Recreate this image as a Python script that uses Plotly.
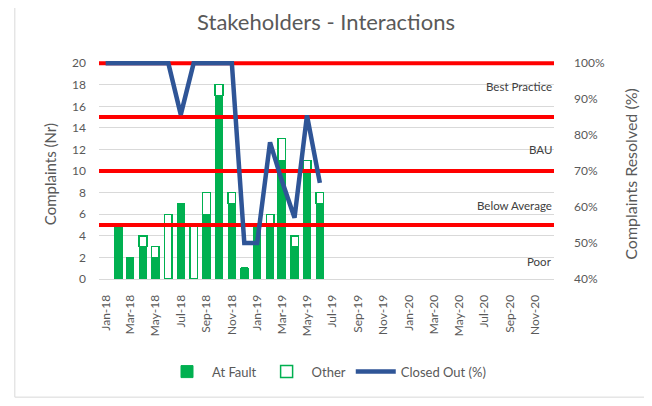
"""
Stakeholders - Interactions: complaints per month (stacked bars)
with % closed out on a secondary axis and red band thresholds.
"""

import plotly.graph_objects as go

# ---------------------------
# data
# ---------------------------

bar_months = [
    "2018-02-01", "2018-03-01", "2018-04-01", "2018-05-01", "2018-06-01",
    "2018-07-01", "2018-08-01", "2018-09-01", "2018-10-01", "2018-11-01",
    "2018-12-01", "2019-01-01", "2019-02-01", "2019-03-01", "2019-04-01",
    "2019-05-01", "2019-06-01",
]
at_fault = [5, 2, 3, 2, 0, 7, 0, 6, 17, 7, 1, 5, 5, 11, 3, 10, 7]
other = [0, 0, 1, 1, 6, 0, 5, 2, 1, 1, 0, 0, 1, 2, 1, 1, 1]

line_months = ["2018-01-01"] + bar_months
closed_out = [1.0, 1.0, 1.0, 1.0, 1.0, 1.0, 0.857, 1.0, 1.0, 1.0, 1.0,
              0.5, 0.5, 0.78, 0.675, 0.57, 0.855, 0.667]

thresholds = [5, 10, 15, 20]
band_names = ["Best Practice", "BAU", "Below Average", "Poor"]
band_y = [17.8, 12.0, 6.8, 1.6]

axis_start, axis_end = "2017-12-16", "2020-12-16"

GREEN = "rgb(0,176,80)"
BLUE = "#2F5597"
RED = "#FF0000"
GREY = "#595959"
FONT = "Lato"

fig = go.Figure()

# ---------------------------
# bars
# ---------------------------

fig.add_trace(go.Bar(
    x=bar_months, y=at_fault, name="At Fault",
    marker=dict(color=GREEN, line=dict(color=GREEN, width=1)),
))
fig.add_trace(go.Bar(
    x=bar_months, y=other, name="Other",
    marker=dict(color="white", line=dict(color=GREEN, width=1.5)),
))

# ---------------------------
# threshold lines (above bars, below the % line)
# ---------------------------

red_x, red_y = [], []
for t in thresholds:
    red_x += [axis_start, axis_end, None]
    red_y += [t, t, None]

fig.add_trace(go.Scatter(
    x=red_x, y=red_y, mode="lines",
    line=dict(color=RED, width=4),
    showlegend=False, hoverinfo="skip",
))

# ---------------------------
# closed out %
# ---------------------------

fig.add_trace(go.Scatter(
    x=line_months, y=closed_out, name="Closed Out (%)",
    mode="lines", yaxis="y2",
    line=dict(color=BLUE, width=4.5),
))

# band labels
for name, yv in zip(band_names, band_y):
    fig.add_annotation(
        x=1.0, xref="paper", xanchor="right", y=yv, yref="y",
        text=name, showarrow=False,
        font=dict(family=FONT, size=11.5, color="#404040"),
    )

# axis titles
fig.add_annotation(
    x=-0.108, xref="paper", xanchor="center",
    y=0.48, yref="paper", yanchor="middle", textangle=-90,
    text="Complaints (Nr)", showarrow=False,
    font=dict(family=FONT, size=15, color=GREY),
)
fig.add_annotation(
    x=1.168, xref="paper", xanchor="center",
    y=0.485, yref="paper", yanchor="middle", textangle=-90,
    text="Complaints Resolved (%)", showarrow=False,
    font=dict(family=FONT, size=16, color=GREY),
)

# outer border
fig.add_shape(
    type="rect", xref="paper", yref="paper",
    x0=-0.185, x1=1.3, y0=-0.542, y1=1.5,
    line=dict(color="#D9D9D9", width=1),
)

# ---------------------------
# layout
# ---------------------------

fig.update_layout(
    title=dict(
        text="Stakeholders - Interactions",
        x=0.5, xanchor="center", y=0.964, yanchor="middle",
        font=dict(family=FONT, size=22, color=GREY),
    ),
    barmode="stack",
    bargap=0.35,
    width=636,
    height=390,
    margin=dict(l=91, r=90, t=53, b=119),
    paper_bgcolor="white",
    plot_bgcolor="white",
    font=dict(family=FONT, color=GREY),
    xaxis=dict(
        type="date",
        range=[axis_start, axis_end],
        tick0="2018-01-01", dtick="M2", tickformat="%b-%y",
        tickangle=-90,
        tickfont=dict(size=12, color=GREY),
        showgrid=False,
        showline=True, linecolor="#D9D9D9", linewidth=1,
        ticks="", ticklabelstandoff=10,
    ),
    yaxis=dict(
        range=[0, 20.2], dtick=2, tick0=0,
        showgrid=True, gridcolor="#D9D9D9", gridwidth=1,
        zeroline=False,
        tickfont=dict(size=12, color=GREY),
        ticks="", ticklabelstandoff=12,
    ),
    yaxis2=dict(
        overlaying="y", side="right",
        range=[0.4, 1.006], dtick=0.1, tick0=0.4,
        tickformat=".0%",
        showgrid=False, zeroline=False,
        tickfont=dict(size=12, color=GREY),
        ticks="", ticklabelstandoff=19,
    ),
    legend=dict(
        orientation="h",
        x=0.5, xanchor="center", y=-0.425, yanchor="middle",
        font=dict(family=FONT, size=13, color=GREY),
        traceorder="normal",
        itemwidth=40,
    ),
)

fig.write_html("out.html")
